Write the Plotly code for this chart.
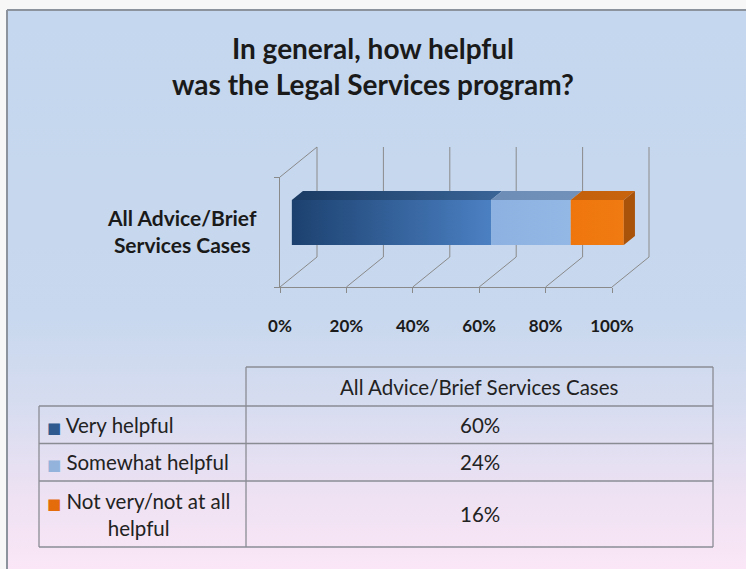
import textwrap
import plotly.graph_objects as go

# ---------------- data ----------------
title_lines = ["In general, how helpful", "was the Legal Services program?"]
categories = ["All Advice/Brief Services Cases"]
series_names = ["Very helpful", "Somewhat helpful", "Not very/not at all helpful"]
series_values = [60, 24, 16]          # percent of cases
tick_values = [0, 20, 40, 60, 80, 100]
tick_labels = ["0%", "20%", "40%", "60%", "80%", "100%"]

# ---------------- styles ----------------
front_colors = [["#1c416f", "#4b80c3"], ["#8db2e1", "#93b8e6"], ["#ef760c", "#f07b12"]]
top_colors = [["#1a3a62", "#3a6597"], ["#6e8db6", "#7291ba"], ["#c4600a", "#c8640e"]]
side_color = "#a9520a"
key_colors = ["#2f5a8f", "#93b3dc", "#e46c0a"]
grid_color = "#8a8a8a"
table_line = "#8a8c94"
text_color = "#222222"
FONT = "Lato"

W, H = 746, 569
# pixel geometry of the 3-D plot box
PX0, PX100 = 280, 612          # front floor edge, 0% .. 100%
PY_FLOOR, PY_TOP = 287, 177    # front plane bottom / top
SX = (PX100 - PX0) / 100.0     # px per percent
SY = (PY_FLOOR - PY_TOP) / 1.0 # px per unit height
DX = 37 / SX                   # depth offset (percent units)
DY = 30 / SY                   # depth offset (height units)
Z0, Z1 = 0.32, 0.62            # bar depth span
Y0, Y1 = 0.295, 0.704          # bar height span


def P(x, y, z):
    return x + z * DX, y + z * DY


fig = go.Figure()

# background panel with vertical gradient (full-page axes)
xr = [(0 - PX0) / SX, (W - PX0) / SX]
yr = [(PY_FLOOR - H) / SY, (PY_FLOOR - 0) / SY]
panel_left = (7 - PX0) / SX
panel_top = (PY_FLOOR - 10) / SY
fig.add_trace(go.Scatter(
    x=[panel_left, xr[1] + 5, xr[1] + 5, panel_left, panel_left],
    y=[yr[0] - 1, yr[0] - 1, panel_top, panel_top, yr[0] - 1],
    mode="lines", line=dict(width=0), fill="toself",
    fillgradient=dict(type="vertical", start=yr[0], stop=panel_top,
                      colorscale=[[0, "#fae6f6"], [0.12, "#efe2f3"], [0.3, "#d6dcf0"],
                                  [0.45, "#c8d8ee"], [1, "#c4d7ee"]]),
    hoverinfo="skip", showlegend=False, xaxis="x", yaxis="y"))

# walls / gridlines
gx, gy = [], []
for t in tick_values:
    for a, b in [(P(t, 0, 0), P(t, 0, 1)), (P(t, 0, 1), P(t, 1, 1))]:
        gx += [a[0], b[0], None]
        gy += [a[1], b[1], None]
a, b = P(0, 1, 0), P(0, 1, 1)
gx += [a[0], b[0], None]
gy += [a[1], b[1], None]
fig.add_trace(go.Scatter(x=gx, y=gy, mode="lines", line=dict(color=grid_color, width=1),
                         hoverinfo="skip", showlegend=False, xaxis="x", yaxis="y"))

# stacked 3-D bar
start = 0
for i, (name, v) in enumerate(zip(series_names, series_values)):
    s, e = start, start + v
    front = [P(s, Y0, Z0), P(e, Y0, Z0), P(e, Y1, Z0), P(s, Y1, Z0), P(s, Y0, Z0)]
    top = [P(s, Y1, Z0), P(e, Y1, Z0), P(e, Y1, Z1), P(s, Y1, Z1), P(s, Y1, Z0)]
    fig.add_trace(go.Scatter(
        x=[p[0] for p in top], y=[p[1] for p in top], mode="lines", line=dict(width=0),
        fill="toself",
        fillgradient=dict(type="horizontal", start=P(s, Y1, Z0)[0], stop=P(e, Y1, Z1)[0],
                          colorscale=[[0, top_colors[i][0]], [1, top_colors[i][1]]]),
        hoverinfo="skip", showlegend=False, xaxis="x", yaxis="y"))
    fig.add_trace(go.Scatter(
        x=[p[0] for p in front], y=[p[1] for p in front], mode="lines", line=dict(width=0),
        fill="toself", name=name,
        fillgradient=dict(type="horizontal", start=P(s, Y0, Z0)[0], stop=P(e, Y0, Z0)[0],
                          colorscale=[[0, front_colors[i][0]], [1, front_colors[i][1]]]),
        hoverinfo="skip", showlegend=False, xaxis="x", yaxis="y"))
    if i == len(series_values) - 1:
        side = [P(e, Y0, Z0), P(e, Y0, Z1), P(e, Y1, Z1), P(e, Y1, Z0), P(e, Y0, Z0)]
        fig.add_trace(go.Scatter(
            x=[p[0] for p in side], y=[p[1] for p in side], mode="lines", line=dict(width=0),
            fill="toself", fillcolor=side_color,
            hoverinfo="skip", showlegend=False, xaxis="x", yaxis="y"))
    start = e

# front axes (tick labels) subplot
fig.add_trace(go.Scatter(x=[None], y=[None], xaxis="x2", yaxis="y2", showlegend=False,
                         hoverinfo="skip"))

# category label
fig.add_annotation(
    text="<br>".join(textwrap.wrap(categories[0], 16)),
    x=182 / W, y=1 - 231 / H, xref="paper", yref="paper",
    xanchor="center", yanchor="middle", align="center", showarrow=False,
    font=dict(family=FONT, size=21, color="#1a1a1a", weight=700))

# ---------------- data table (own subplot, pixel-like units) ----------------
COL0_W, COL1_W = 207, 467
HEADER_H, ROW_BASE_H, ROW_LINE_H = 39, 37.5, 28.5
TABLE_LEFT, TABLE_TOP = 39, 367
label_lines = [textwrap.wrap(n, 19) for n in series_names]
row_heights = [ROW_BASE_H + ROW_LINE_H * (len(l) - 1) for l in label_lines]
TOTAL_W = COL0_W + COL1_W
TOTAL_H = HEADER_H + sum(row_heights)
PAD = 2

bx, by = [], []
def seg(x0, y0, x1, y1):
    bx.extend([x0, x1, None])
    by.extend([y0, y1, None])

# header cell (right column only)
seg(COL0_W, 0, TOTAL_W, 0)
seg(COL0_W, 0, COL0_W, HEADER_H)
seg(TOTAL_W, 0, TOTAL_W, HEADER_H)
# body
yb = HEADER_H
seg(0, yb, TOTAL_W, yb)
for rh in row_heights:
    yb += rh
    seg(0, yb, TOTAL_W, yb)
seg(0, HEADER_H, 0, TOTAL_H)
seg(COL0_W, HEADER_H, COL0_W, TOTAL_H)
seg(TOTAL_W, HEADER_H, TOTAL_W, TOTAL_H)
fig.add_trace(go.Scatter(x=bx, y=by, mode="lines", line=dict(color=table_line, width=1.3),
                         hoverinfo="skip", showlegend=False, xaxis="x3", yaxis="y3"))

tfont = dict(family=FONT, size=20.5, color=text_color)
fig.add_annotation(text=categories[0], x=COL0_W + COL1_W / 2, y=HEADER_H / 2,
                   xref="x3", yref="y3", showarrow=False, xanchor="center",
                   yanchor="middle", font=tfont)
yb = HEADER_H
for c, lines, rh, v in zip(key_colors, label_lines, row_heights, series_values):
    mid = yb + rh / 2
    label = (f'<span style="font-family:DejaVu Sans;font-size:15px;color:{c}">■</span> '
             + "<br>".join(lines))
    fig.add_annotation(text=label, x=6, y=mid, xref="x3", yref="y3", showarrow=False,
                       xanchor="left", yanchor="middle", align="center", font=tfont)
    fig.add_annotation(text=f"{v}%", x=COL0_W + COL1_W / 2, y=mid, xref="x3", yref="y3",
                       showarrow=False, xanchor="center", yanchor="middle", font=tfont)
    yb += rh

# outer border of panel
fig.add_shape(type="line", xref="paper", yref="paper", x0=7 / W, x1=1, y0=1 - 10 / H, y1=1 - 10 / H,
              line=dict(color="#8d939c", width=2))
fig.add_shape(type="line", xref="paper", yref="paper", x0=7 / W, x1=7 / W, y0=0, y1=1 - 10 / H,
              line=dict(color="#8d939c", width=2))

fig.update_layout(
    width=W, height=H, margin=dict(l=0, r=0, t=0, b=0, autoexpand=False),
    paper_bgcolor="#f7f7f7", plot_bgcolor="rgba(0,0,0,0)",
    showlegend=False,
    title=dict(text="<br>".join(title_lines), x=373 / W, xanchor="center",
               y=1 - 59 / H, yanchor="middle", yref="paper", automargin=False,
               font=dict(family=FONT, size=28, color="#1a1a1a", weight=700)),
    xaxis=dict(domain=[0, 1], range=xr, visible=False, fixedrange=True),
    yaxis=dict(domain=[0, 1], range=yr, visible=False, fixedrange=True),
    xaxis2=dict(domain=[PX0 / W, PX100 / W], range=[0, 100], anchor="y2",
                showline=True, linecolor=grid_color, linewidth=1,
                ticks="outside", ticklen=5, tickcolor=grid_color, tickwidth=1,
                tickvals=tick_values, ticktext=tick_labels, ticklabelstandoff=19,
                showgrid=False, zeroline=False, fixedrange=True, automargin=False,
                tickfont=dict(family=FONT, size=17, color="#1a1a1a", weight=700)),
    yaxis2=dict(domain=[1 - PY_FLOOR / H, 1 - PY_TOP / H], range=[0, 1], anchor="x2",
                showline=True, linecolor=grid_color, linewidth=1,
                ticks="outside", ticklen=5, tickcolor=grid_color, tickwidth=1,
                tickvals=[0, 1], ticktext=["", ""], showgrid=False, zeroline=False,
                fixedrange=True, automargin=False),
    xaxis3=dict(domain=[(TABLE_LEFT - PAD) / W, (TABLE_LEFT + TOTAL_W + PAD) / W],
                range=[-PAD, TOTAL_W + PAD], anchor="y3", visible=False, fixedrange=True),
    yaxis3=dict(domain=[1 - (TABLE_TOP + TOTAL_H + PAD) / H, 1 - (TABLE_TOP - PAD) / H],
                range=[TOTAL_H + PAD, -PAD], anchor="x3", visible=False, fixedrange=True),
)

fig.write_html("out.html", config={"displayModeBar": False},
               post_script="document.body.style.margin='0';document.body.style.overflow='hidden';")
